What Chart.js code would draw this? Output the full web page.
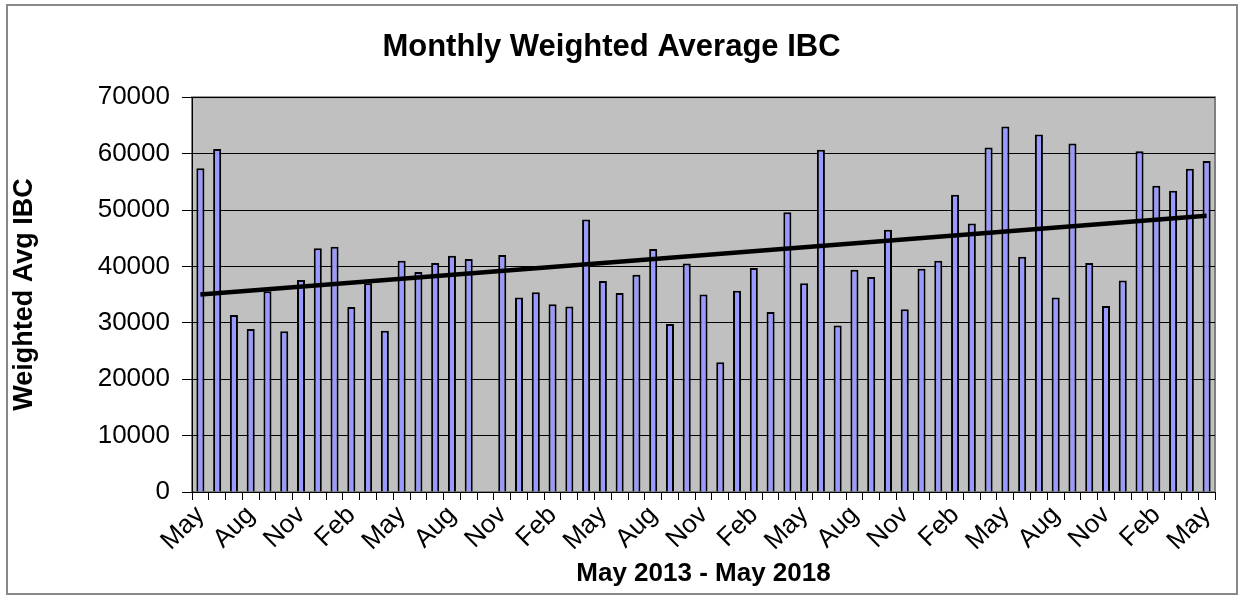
<!DOCTYPE html>
<html>
<head>
<meta charset="utf-8">
<title>Monthly Weighted Average IBC</title>
<script src="https://cdn.jsdelivr.net/npm/chart.js@4.4.1/dist/chart.umd.min.js"></script>
<style>
  html, body { margin: 0; padding: 0; background: #fff; }
  #wrap { position: relative; width: 1238px; height: 595px; }
  #frame { position: absolute; left: 6px; top: 4px; width: 1228px; height: 587px; border: 2px solid #888; pointer-events: none; }
  canvas { position: absolute; left: 0; top: 0; }
</style>
</head>
<body>
<div id="wrap">
  <canvas id="chart" width="1238" height="595"></canvas>
  <div id="frame"></div>
</div>
<script>
// month labels, May 2013 - May 2018
const months = [
  'May','Jun','Jul','Aug','Sep','Oct','Nov','Dec','Jan','Feb','Mar','Apr',
  'May','Jun','Jul','Aug','Sep','Oct','Nov','Dec','Jan','Feb','Mar','Apr',
  'May','Jun','Jul','Aug','Sep','Oct','Nov','Dec','Jan','Feb','Mar','Apr',
  'May','Jun','Jul','Aug','Sep','Oct','Nov','Dec','Jan','Feb','Mar','Apr',
  'May','Jun','Jul','Aug','Sep','Oct','Nov','Dec','Jan','Feb','Mar','Apr',
  'May'
];

// weighted avg IBC per month (Oct 2014 has no value)
const avgIBC = [
  57400, 60800, 31400, 28900, 35600, 28500, 37600, 43200, 43500, 32800, 37000, 28600,
  41000, 39000, 40600, 41900, 41300, null,  42000, 34500, 35400, 33300, 32900, 48300,
  37400, 35300, 38500, 43100, 29800, 40500, 35000, 23000, 35700, 39700, 31900, 49600,
  37000, 60700, 29500, 39400, 38100, 46500, 32400, 39600, 41000, 52700, 47600, 61100,
  64800, 41700, 63400, 34500, 61800, 40600, 33000, 37500, 60400, 54300, 53400, 57300,
  58700
];

// linear trend, read at the first and last month
const trendStart = 35000;
const trendEnd = 49000;

const yTicks = [0, 10000, 20000, 30000, 40000, 50000, 60000, 70000];

const trend = months.map(() => null);
trend[0] = trendStart;
trend[trend.length - 1] = trendEnd;

const FONT = 'Liberation Sans, Arial, Helvetica, sans-serif';

// grey plot area background with border
const plotBg = {
  id: 'plotBg',
  beforeDraw(chart){
    const a = chart.chartArea, ctx = chart.ctx;
    ctx.save();
    ctx.fillStyle = '#c0c0c0';
    ctx.fillRect(a.left, a.top, a.right - a.left, a.bottom - a.top);
    ctx.strokeStyle = '#808080';
    ctx.lineWidth = 2;
    ctx.strokeRect(a.left, a.top, a.right - a.left, a.bottom - a.top);
    ctx.restore();
  }
};

new Chart(document.getElementById('chart'), {
  data: {
    labels: months,
    datasets: [
      {
        type: 'line', label: 'Trend', data: trend, spanGaps: true,
        borderColor: '#000', borderWidth: 4.5, pointRadius: 0, order: 1
      },
      {
        type: 'bar', label: 'Weighted Avg IBC', data: avgIBC,
        backgroundColor: '#9999ff', borderColor: '#000', borderWidth: 2,
        categoryPercentage: 1, barPercentage: 0.48, order: 2
      }
    ]
  },
  options: {
    responsive: false,
    animation: false,
    layout: { padding: { left: 8, right: 23, top: 0, bottom: 6 } },
    plugins: {
      legend: { display: false },
      tooltip: { enabled: false },
      title: {
        display: true, text: 'Monthly Weighted Average IBC', color: '#000',
        font: { family: FONT, size: 31, weight: 'bold', lineHeight: 1.2 },
        padding: { top: 29, bottom: 31 }
      }
    },
    scales: {
      x: {
        offset: true,
        grid: { display: true, drawOnChartArea: false, offset: true, color: '#000', tickLength: 8 },
        border: { display: true, color: '#000', width: 1 },
        ticks: {
          autoSkip: false, maxRotation: 45, minRotation: 45, color: '#000', padding: 0,
          font: { family: FONT, size: 26 },
          callback: (v, i) => (i % 3 === 0 ? months[i] : '')
        },
        title: {
          display: true, text: 'May 2013 - May 2018', color: '#000',
          font: { family: FONT, size: 26, weight: 'bold' }, padding: { top: 0, bottom: 0 }
        },
        afterFit(scale){ scale.height = 97; }
      },
      y: {
        min: 0, max: 70000,
        afterBuildTicks(scale){ scale.ticks = yTicks.map(v => ({ value: v })); },
        grid: { color: '#000', lineWidth: 1, tickLength: 10 },
        border: { display: true, color: '#000', width: 1 },
        ticks: {
          color: '#000', padding: 12, font: { family: FONT, size: 26 },
          callback: v => String(v)
        },
        title: {
          display: true, text: 'Weighted Avg IBC', color: '#000',
          font: { family: FONT, size: 27, weight: 'bold' }, padding: { top: 0, bottom: 12 }
        },
        afterFit(scale){ scale.width = 184; }
      }
    }
  },
  plugins: [plotBg]
});
</script>
</body>
</html>
